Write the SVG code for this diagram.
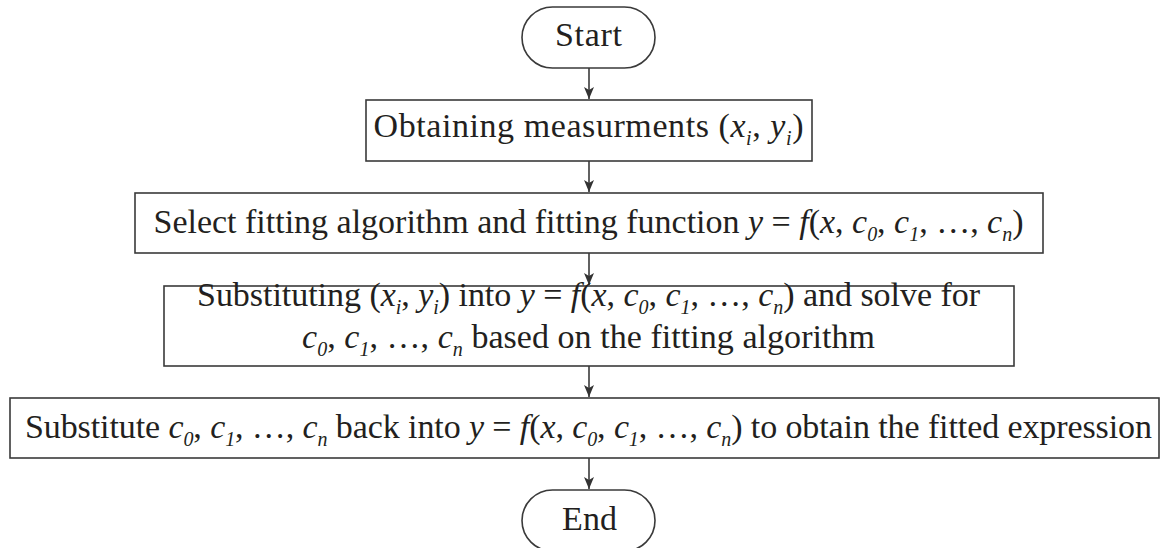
<svg xmlns="http://www.w3.org/2000/svg" width="1161" height="548" viewBox="0 0 1161 548">
<defs>
<marker id="ah" markerWidth="12" markerHeight="10" refX="12" refY="5" orient="auto" markerUnits="userSpaceOnUse" viewBox="0 0 12 10">
<path d="M0,0 L12,5 L0,10 L3,5 Z" fill="#333"/>
</marker>
<style>
.box{fill:#fff;stroke:#3a3a3a;stroke-width:1.6}
.t{font-family:"Liberation Serif",serif;font-size:34px;fill:#231f20;text-anchor:middle}
.i{font-style:italic}
.s{font-size:20px;font-style:italic}
.c{stroke:#3a3a3a;stroke-width:1.6;fill:none}
</style>
</defs>
<g id="connectors">
<line class="c" x1="589" y1="68" x2="589" y2="99" marker-end="url(#ah)"/>
<line class="c" x1="589" y1="161" x2="589" y2="192" marker-end="url(#ah)"/>
<line class="c" x1="589" y1="253" x2="589" y2="285" marker-end="url(#ah)"/>
<line class="c" x1="589" y1="366" x2="589" y2="397" marker-end="url(#ah)"/>
<line class="c" x1="589" y1="458" x2="589" y2="489" marker-end="url(#ah)"/>
</g>
<g id="start">
<rect class="box" x="522" y="7" width="133" height="61" rx="30.5"/>
<text class="t" x="588.5" y="46" textLength="67">Start</text>
</g>
<g id="obtain">
<rect class="box" x="366" y="100" width="446" height="61"/>
<text class="t" x="588.5" y="137" textLength="430">Obtaining measurments (<tspan class="i">x</tspan><tspan class="s" dy="8">i</tspan><tspan dy="-8">, </tspan><tspan class="i">y</tspan><tspan class="s" dy="8">i</tspan><tspan dy="-8">)</tspan></text>
</g>
<g id="select">
<rect class="box" x="135" y="193" width="908" height="60"/>
<text class="t" x="588.5" y="233" textLength="870">Select fitting algorithm and fitting function <tspan class="i">y</tspan> = <tspan class="i">f</tspan>(<tspan class="i">x</tspan>, <tspan class="i">c</tspan><tspan class="s" dy="8">0</tspan><tspan dy="-8">, </tspan><tspan class="i">c</tspan><tspan class="s" dy="8">1</tspan><tspan dy="-8">, …, </tspan><tspan class="i">c</tspan><tspan class="s" dy="8">n</tspan><tspan dy="-8">)</tspan></text>
</g>
<g id="substituting">
<rect class="box" x="164" y="286" width="850" height="80"/>
<text class="t" x="588.5" y="306" textLength="783">Substituting (<tspan class="i">x</tspan><tspan class="s" dy="8">i</tspan><tspan dy="-8">, </tspan><tspan class="i">y</tspan><tspan class="s" dy="8">i</tspan><tspan dy="-8">) into </tspan><tspan class="i">y</tspan> = <tspan class="i">f</tspan>(<tspan class="i">x</tspan>, <tspan class="i">c</tspan><tspan class="s" dy="8">0</tspan><tspan dy="-8">, </tspan><tspan class="i">c</tspan><tspan class="s" dy="8">1</tspan><tspan dy="-8">, …, </tspan><tspan class="i">c</tspan><tspan class="s" dy="8">n</tspan><tspan dy="-8">) and solve for</tspan></text>
<text class="t" x="588.5" y="348" textLength="573"><tspan class="i">c</tspan><tspan class="s" dy="8">0</tspan><tspan dy="-8">, </tspan><tspan class="i">c</tspan><tspan class="s" dy="8">1</tspan><tspan dy="-8">, …, </tspan><tspan class="i">c</tspan><tspan class="s" dy="8">n</tspan><tspan dy="-8"> based on the fitting algorithm</tspan></text>
</g>
<g id="substitute">
<rect class="box" x="10" y="398" width="1149" height="60"/>
<text class="t" x="588.5" y="438" textLength="1127">Substitute <tspan class="i">c</tspan><tspan class="s" dy="8">0</tspan><tspan dy="-8">, </tspan><tspan class="i">c</tspan><tspan class="s" dy="8">1</tspan><tspan dy="-8">, …, </tspan><tspan class="i">c</tspan><tspan class="s" dy="8">n</tspan><tspan dy="-8"> back into </tspan><tspan class="i">y</tspan> = <tspan class="i">f</tspan>(<tspan class="i">x</tspan>, <tspan class="i">c</tspan><tspan class="s" dy="8">0</tspan><tspan dy="-8">, </tspan><tspan class="i">c</tspan><tspan class="s" dy="8">1</tspan><tspan dy="-8">, …, </tspan><tspan class="i">c</tspan><tspan class="s" dy="8">n</tspan><tspan dy="-8">) to obtain the fitted expression</tspan></text>
</g>
<g id="end">
<rect class="box" x="522" y="490" width="133" height="61" rx="30.5"/>
<text class="t" x="589.5" y="530" textLength="55">End</text>
</g>
</svg>
